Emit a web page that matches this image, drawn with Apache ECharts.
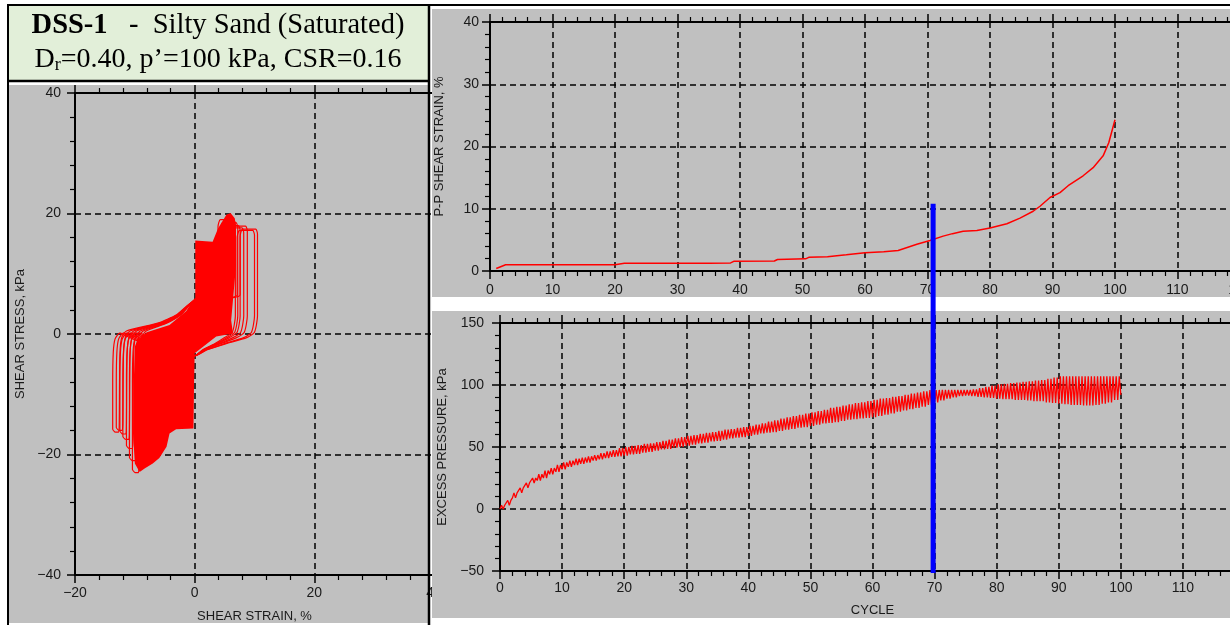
<!DOCTYPE html>
<html><head><meta charset="utf-8">
<script src="https://cdn.jsdelivr.net/npm/echarts@6/dist/echarts.min.js"></script>
<style>html,body{margin:0;padding:0;background:#fff;}#c{width:1230px;height:625px;}</style>
</head><body><div id="c"></div>
<script>
// ---------- DATA ----------
// Top right: P-P shear strain (%) vs cycle
const ppCycle  = [1, 1.5, 2, 2.5, 5, 10, 15, 20, 21.5, 25, 30, 35, 38.5, 39, 45.5, 46, 50.5, 51, 54, 57, 60, 63, 65.3, 66.5, 68.3, 70.4, 72.5, 74, 75.7, 77.9, 80, 82.7, 84.8, 86.9, 88, 89.6, 91.2, 92.5, 94.9, 96.5, 98.1, 99, 100];
const ppStrain = [0.4, 0.6, 0.8, 1.0, 1.0, 1.0, 1.0, 1.0, 1.25, 1.25, 1.25, 1.25, 1.3, 1.55, 1.6, 1.85, 1.95, 2.2, 2.3, 2.6, 2.95, 3.1, 3.3, 3.7, 4.3, 4.9, 5.6, 6.0, 6.4, 6.5, 6.9, 7.6, 8.5, 9.6, 10.4, 11.8, 12.6, 13.7, 15.3, 16.6, 18.5, 20.6, 24.3];

// Bottom right: excess pore pressure envelope (kPa) for cycles 0..100
const epUpper = [3,7,13,17,21,25,28,31,33,35.5, 37.5,39,40.5,41.5,42.5,43.5,45,46.5,47.5,49, 50,51,51.5,52.5,53,54,55,56,57,58, 59,59.5,60.5,61.5,62,63,64,64.5,65.5,66, 67,68,69,70.5,71.5,73,74,75,76,77, 78,79,80,81.5,82.5,83.5,84.5,85.5,86,87, 88,89,89.5,90.5,91,92,93,94,95,96, 96,96,96,96,96,96,96.5,97.5,98.5,99.5, 100.5,101,101.5,102,102.5,103,103.5,104,105,106, 107,107,107,107,107,107,107,107,107,107, 105];
const epLower = [0,3,9,13,17,21,23,25,28,30, 32,34,35.5,36.5,37.5,39,40,41,42,42.5, 43,44,44.5,45.5,46,47,48,48.5,49.5,50, 51,52,53,53.5,54.5,55,56,57,57.5,58, 59,60,61,61.5,62,63,64,64.5,65.5,66, 67,68,69,69.5,70,71,72,72.5,73,73.5, 74,75,76,77,78.5,79.5,80.5,81.5,82.5,84, 86,87.5,89,90,91,91.5,91,90.5,90,89.5, 89,88.5,88.5,88,88,87.5,87,87,86,85.5, 85,84.5,84,84,83.5,83.5,84,85,86,88, 92];

// Left: dense core of the stress-strain loops [strain %, stress kPa]
const coreOutline = [[0.1,15.5],[3.0,15.3],[3.9,17.5],[5.3,19.8],[6.0,20.1],[6.7,19.2],[6.9,17.8],[6.9,11.2],[6.4,5.6],[6.1,2.3],[6.4,0.1],[3.6,-0.4],[1.4,-2.1],[0.0,-3.2],[-0.1,-8],[-0.2,-15.7],[-3.1,-15.8],[-4.2,-16.5],[-4.7,-18.7],[-5.9,-20.6],[-7.0,-21.5],[-8.3,-22.3],[-9.2,-22.9],[-10.0,-21.5],[-10.3,-16.5],[-10.2,-8.8],[-10.0,-2.1],[-9.6,-1.0],[-8.0,0.3],[-4.2,1.5],[-1.4,3.8],[-0.3,5.6],[0.1,6]];
// Left: outer individual loops (extremes)
const loopLeft   = [-13.7, -13.1, -12.5, -12.0, -11.4, -10.9, -10.4];
const loopRight  = [10.5, 10.0, 8.8, 8.2, 7.6, 7.2, 6.8];
const loopBottom = [-16.3, -16.0, -16.6, -17.5, -19.0, -21.0, -23.0];
const loopTop    = [17.4, 17.2, 17.9, 17.6, 18.0, 18.5, 19.0];

// Blue marker line (cycle, top value, bottom value in top-panel units)
const markerCycle = 70.9, markerTop = 10.8, markerBottom = -48.5;

// ---------- BUILD ----------
function loopPath(a, b, tB, tT) {
  return [[a+0.4,tB],[a+1.0,tB],[a+1.1,tB+2],[a+1.2,-3.5],[a+1.5,-0.6],[a+2.3,0.5],[a*0.45,1.8],[a*0.22,3.2],[0,5.6],
          [b-2.9,6.5],[b-2.9,tT-1.2],[b-2.5,tT],[b-0.3,tT],[b,tT-0.8],[b,3],[b-0.5,0.3],[b-1.8,-0.6],[b*0.5,-1.6],[b*0.2,-2.6],[0,-3.6],
          [a*0.5,-2.2],[a+2.2,-0.3],[a+1.2,0.2],[a+0.4,-0.8],[a+0.1,-3],[a,-8],[a,tB+0.5],[a+0.4,tB]];
}
const epData = [];
for (let i = 0; i < 100; i++) {
  epData.push([i, epLower[i]], [i+0.25, epUpper[i]], [i+0.5, epLower[i]], [i+0.75, epUpper[i]]);
}
epData.push([100, epLower[100]]);

const FONT = 'Liberation Sans, Arial, sans-serif';
const lab = {color:'#1a1a1a', fontFamily:FONT, fontSize:14, formatter: v => String(v).replace('-', '\u2212')};
const axLine = {show:true, onZero:false, lineStyle:{color:'#000', width:2}};
const tick = {show:true, length:8, lineStyle:{color:'#000', width:1.5}};
const minor = {show:true, splitNumber:5, length:5, lineStyle:{color:'#000', width:1.2}};
const split = {show:true, lineStyle:{color:'#000', width:1.5, type:[6,4]}};
const nameStyle = {color:'#1a1a1a', fontFamily:FONT, fontSize:13};

function xAx(grid, min, max, iv, pos, extra, z) {
  const main = pos === 'bottom';
  return Object.assign({type:'value', gridIndex:grid, position:pos, min:min, max:max, interval:iv, z:z,
    axisLine:axLine, axisTick:tick, minorTick:minor,
    splitLine: main ? split : {show:false},
    axisLabel: main ? Object.assign({}, lab, {margin:11}) : {show:false}}, extra||{});
}
function yAx(grid, min, max, iv, name, gap, margin, z) {
  return {type:'value', gridIndex:grid, min:min, max:max, interval:iv, z:z,
    axisLine:axLine, axisTick:tick, minorTick:minor, splitLine:split,
    axisLabel:Object.assign({}, lab, {margin:margin}),
    name:name, nameLocation:'middle', nameGap:gap, nameRotate:90, nameTextStyle:nameStyle};
}

const series = [];
series.push({type:'custom', xAxisIndex:0, yAxisIndex:0, z:2, data:[[0,0]],
  renderItem:function(params, api){
    return {type:'polygon', shape:{points: coreOutline.map(p => api.coord(p))}, style:{fill:'#ff0000'}};
  }});
loopLeft.forEach((a, i) => {
  series.push({type:'line', xAxisIndex:0, yAxisIndex:0, z:2, symbol:'none', smooth:0.2,
    data: loopPath(a, loopRight[i], loopBottom[i], loopTop[i]),
    lineStyle:{color:'#ff0000', width:1.2}});
});
series.push({type:'line', xAxisIndex:2, yAxisIndex:1, z:6, symbol:'none',
  data: ppCycle.map((c,i)=>[c, ppStrain[i]]), lineStyle:{color:'#ff0000', width:1.5}});
series.push({type:'line', xAxisIndex:4, yAxisIndex:2, z:6, symbol:'none',
  data: epData, lineStyle:{color:'#ff0000', width:1.3}});
series.push({type:'line', xAxisIndex:2, yAxisIndex:1, z:20, symbol:'none', clip:false,
  data: [[markerCycle, markerTop],[markerCycle, markerBottom]], lineStyle:{color:'#0000ff', width:5, cap:'butt'}});

const GRAY = '#c0c0c0';
const SERIF = 'Liberation Serif, Times New Roman, serif';
const graphic = [
  {type:'rect', z:-10, silent:true, shape:{x:7,y:4,width:422,height:77}, style:{fill:'#e2efd9'}},
  {type:'rect', z:-10, silent:true, shape:{x:9,y:85,width:419,height:538}, style:{fill:GRAY}},
  {type:'rect', z:-10, silent:true, shape:{x:432,y:9,width:798,height:288}, style:{fill:GRAY}},
  {type:'rect', z:-10, silent:true, shape:{x:432,y:311,width:798,height:307}, style:{fill:GRAY}},
  {type:'rect', z:3, silent:true, shape:{x:432,y:85,width:10,height:212}, style:{fill:GRAY}},
  {type:'rect', z:3, silent:true, shape:{x:430,y:297,width:12,height:14}, style:{fill:'#fff'}},
  {type:'rect', z:3, silent:true, shape:{x:432,y:311,width:10,height:307}, style:{fill:GRAY}},
  {type:'rect', z:3, silent:true, shape:{x:430,y:618,width:12,height:7}, style:{fill:'#fff'}},
  {type:'line', z:4, silent:true, shape:{x1:7,y1:5,x2:1230,y2:5}, style:{stroke:'#000', lineWidth:2}},
  {type:'line', z:4, silent:true, shape:{x1:8,y1:4,x2:8,y2:625}, style:{stroke:'#000', lineWidth:2}},
  {type:'line', z:4, silent:true, shape:{x1:429,y1:4,x2:429,y2:625}, style:{stroke:'#000', lineWidth:2.5}},
  {type:'line', z:4, silent:true, shape:{x1:7,y1:81,x2:429,y2:81}, style:{stroke:'#000', lineWidth:2.5}},
  {type:'text', z:30, silent:true, x:218, y:26, style:{
    text:'{b|DSS-1}{n|   -  Silty Sand (Saturated)}', align:'center', verticalAlign:'middle',
    rich:{b:{fontFamily:SERIF, fontSize:28.5, fontWeight:'bold', fill:'#000'},
          n:{fontFamily:SERIF, fontSize:28.5, fill:'#000'}}}},
  {type:'text', z:30, silent:true, x:218, y:60, style:{
    text:'{n|D}{s|r}{n|=0.40, p\u2019=100 kPa, CSR=0.16}', align:'center', verticalAlign:'middle',
    rich:{n:{fontFamily:SERIF, fontSize:28, fill:'#000'},
          s:{fontFamily:SERIF, fontSize:18, fill:'#000', verticalAlign:'bottom'}}}}
];

const option = {
  animation:false,
  backgroundColor:'#ffffff',
  grid:[
    {left:75, top:93, width:359, height:482, containLabel:false, outerBoundsMode:'none'},
    {left:490, top:22, width:750, height:249, containLabel:false, outerBoundsMode:'none'},
    {left:500, top:323, width:745, height:248, containLabel:false, outerBoundsMode:'none'}
  ],
  xAxis:[
    xAx(0, -20, 40, 20, 'bottom', {name:'SHEAR STRAIN, %', nameLocation:'middle', nameGap:35, nameTextStyle:nameStyle}, 1),
    xAx(0, -20, 40, 20, 'top', null, 1),
    xAx(1, 0, 120, 10, 'bottom', {axisLabel:Object.assign({}, lab, {margin:12})}, 5),
    xAx(1, 0, 120, 10, 'top', null, 5),
    xAx(2, 0, 120, 10, 'bottom', {axisLabel:Object.assign({}, lab, {margin:10}), name:'CYCLE', nameLocation:'middle', nameGap:33, nameTextStyle:nameStyle}, 5),
    xAx(2, 0, 120, 10, 'top', null, 5)
  ],
  yAxis:[
    yAx(0, -40, 40, 20, 'SHEAR STRESS, kPa', 48, 14, 1),
    yAx(1, 0, 40, 10, 'P-P SHEAR STRAIN, %', 44, 11, 5),
    yAx(2, -50, 150, 50, 'EXCESS PRESSURE, kPa', 51, 16, 5)
  ],
  graphic: graphic,
  series: series
};
const chart = echarts.init(document.getElementById('c'), null, {renderer:'canvas'});
chart.setOption(option);
</script>
</body></html>
